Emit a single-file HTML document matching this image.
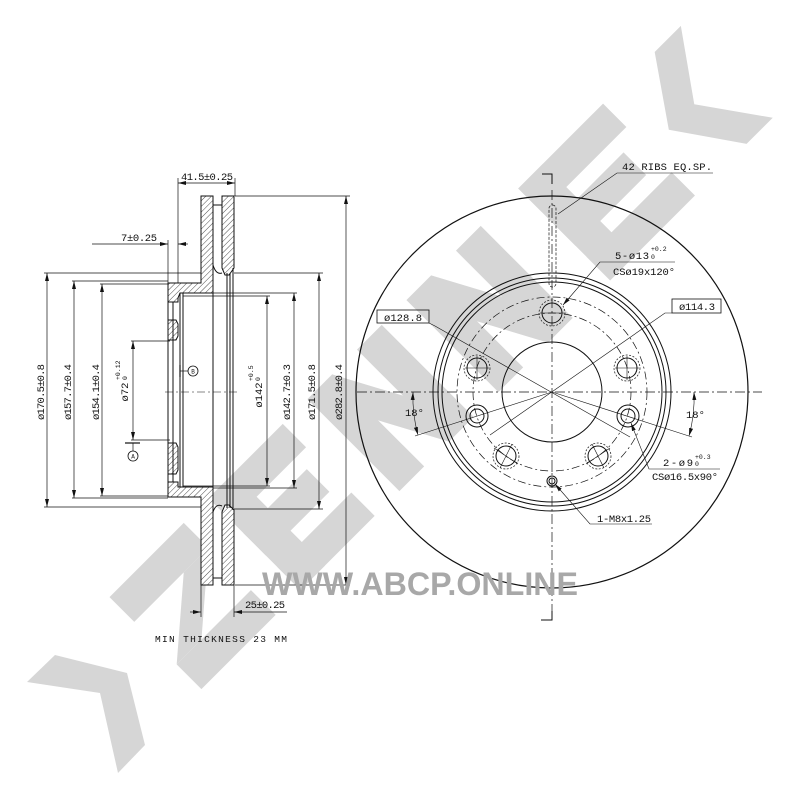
<!DOCTYPE html>
<html><head><meta charset="utf-8"><style>
html,body{margin:0;padding:0;background:#fff;}
svg{display:block;}
text{font-family:"Liberation Mono",monospace;fill:#111;}
</style></head><body>
<svg width="800" height="800" viewBox="0 0 800 800" xmlns="http://www.w3.org/2000/svg">
<defs>
<pattern id="h" patternUnits="userSpaceOnUse" width="4" height="4" patternTransform="rotate(45)">
<rect width="4" height="4" fill="#fff"/><line x1="0" y1="0" x2="0" y2="4" stroke="#222" stroke-width="0.8"/>
</pattern>
<marker id="a" markerWidth="8" markerHeight="6" refX="8" refY="3" orient="auto" markerUnits="userSpaceOnUse"><path d="M0,1 L8,3 L0,5z" fill="#111"/></marker>
<marker id="s" markerWidth="8" markerHeight="6" refX="0" refY="3" orient="auto" markerUnits="userSpaceOnUse"><path d="M8,1 L0,3 L8,5z" fill="#111"/></marker>
</defs>
<rect width="800" height="800" fill="#fff"/>

<!-- watermark -->
<g fill="#d6d6d6">
<polygon points="27,682 55,655 127,673 145,745 118,773 100,693"/>
<g transform="translate(60,740) rotate(-45)">
 <rect x="136" y="-66" width="105" height="35"/>
 <rect x="136" y="29" width="105" height="35"/>
 <polygon points="206,-31 241,-31 171,29 136,29"/>
 <rect x="276" y="-66" width="35" height="130"/>
 <rect x="276" y="-66" width="105" height="33"/>
 <rect x="276" y="-17" width="90" height="32"/>
 <rect x="276" y="31" width="105" height="33"/>
 <rect x="416" y="-66" width="35" height="130"/>
 <rect x="486" y="-66" width="35" height="130"/>
 <polygon points="416,-66 451,-66 521,64 486,64"/>
 <rect x="556" y="-66" width="35" height="130"/>
 <rect x="626" y="-66" width="35" height="130"/>
 <polygon points="556,-66 591,-66 661,64 626,64"/>
 <rect x="714" y="-66" width="35" height="130"/>
 <rect x="714" y="-66" width="120" height="33"/>
 <rect x="714" y="-17" width="100" height="32"/>
 <rect x="714" y="31" width="120" height="33"/>
 <polygon points="907,-66 944,-66 898,-1 944,64 907,64 862,-1"/>
</g>
</g>

<!-- ===== LEFT SECTION ===== -->
<g stroke="#111" stroke-width="1" fill="none">
<path fill="url(#h)" d="M201,196 H213 V293 H180 L178,298 V302 H168 V283 H201 Z"/>
<path fill="url(#h)" d="M168,320 H176 L178,324 V336 L176,340 H168 Z"/>
<path fill="url(#h)" d="M168,443 H176 L178,447 V470 L176,474 H168 Z"/>
<path fill="url(#h)" d="M168,482 H178 V487 H213 V585 H201 V497 H168 Z"/>
<path fill="url(#h)" d="M222,196 H234 V268 L229,275 H225 L222,268 Z"/>
<path fill="url(#h)" d="M222,512 L225,505 H229 L234,510 V585 H222 Z"/>
<line x1="213" y1="205" x2="222" y2="205"/>
<line x1="213" y1="578" x2="222" y2="578"/>
<path d="M213,265 Q216,275 222,273"/>
<path d="M213,512 Q216,503 222,506"/>
<line x1="168" y1="302" x2="168" y2="482"/>
<line x1="173" y1="302" x2="173" y2="482"/>
<line x1="180" y1="293" x2="180" y2="487"/>
<line x1="183" y1="293" x2="183" y2="487"/>
<line x1="213" y1="293" x2="213" y2="487"/>
<line x1="227" y1="273" x2="227" y2="508"/>
<line x1="230" y1="273" x2="230" y2="508"/>
<line x1="233" y1="268" x2="233" y2="510"/>
<line x1="183" y1="296" x2="270" y2="296" stroke-width="0.7"/>
<line x1="183" y1="486" x2="270" y2="486" stroke-width="0.7"/>
<line x1="165" y1="392" x2="238" y2="392" stroke-width="0.6" stroke-dasharray="8,3,2,3"/>

<g stroke-width="0.7">
<line x1="178" y1="178" x2="178" y2="283"/>
<line x1="235" y1="178" x2="235" y2="196"/>
<line x1="178" y1="183" x2="235" y2="183" marker-start="url(#s)" marker-end="url(#a)"/>
<line x1="168" y1="240" x2="168" y2="283"/>
<line x1="92" y1="244" x2="168" y2="244" marker-end="url(#a)"/>
<line x1="178" y1="244" x2="188" y2="244" marker-start="url(#s)"/>
<line x1="44" y1="273" x2="201" y2="273"/>
<line x1="44" y1="507" x2="201" y2="507"/>
<line x1="47" y1="273" x2="47" y2="507" marker-start="url(#s)" marker-end="url(#a)"/>
<line x1="72" y1="281" x2="168" y2="281"/>
<line x1="72" y1="498" x2="168" y2="498"/>
<line x1="74" y1="281" x2="74" y2="498" marker-start="url(#s)" marker-end="url(#a)"/>
<line x1="100" y1="284" x2="168" y2="284"/>
<line x1="100" y1="496" x2="168" y2="496"/>
<line x1="102" y1="284" x2="102" y2="496" marker-start="url(#s)" marker-end="url(#a)"/>
<line x1="131" y1="341" x2="170" y2="341"/>
<line x1="131" y1="440" x2="170" y2="440"/>
<line x1="133" y1="341" x2="133" y2="440" marker-start="url(#s)" marker-end="url(#a)"/>
<line x1="125" y1="443" x2="140" y2="443" stroke-width="1.2"/>
<line x1="133" y1="443" x2="133" y2="451"/>
<line x1="267" y1="296" x2="267" y2="486" marker-start="url(#s)" marker-end="url(#a)"/>
<line x1="213" y1="293" x2="297" y2="293"/>
<line x1="213" y1="488" x2="297" y2="488"/>
<line x1="294" y1="293" x2="294" y2="488" marker-start="url(#s)" marker-end="url(#a)"/>
<line x1="234" y1="273" x2="323" y2="273"/>
<line x1="234" y1="509" x2="323" y2="509"/>
<line x1="319" y1="273" x2="319" y2="509" marker-start="url(#s)" marker-end="url(#a)"/>
<line x1="235" y1="196" x2="350" y2="196"/>
<line x1="235" y1="585" x2="350" y2="585"/>
<line x1="346" y1="196" x2="346" y2="585" marker-start="url(#s)" marker-end="url(#a)"/>
<line x1="201" y1="585" x2="201" y2="617"/>
<line x1="234" y1="585" x2="234" y2="617"/>
<line x1="190" y1="612" x2="201" y2="612" marker-end="url(#a)"/>
<line x1="234" y1="612" x2="287" y2="612" marker-start="url(#s)"/>
<line x1="180" y1="365" x2="180" y2="377" stroke-width="1.2"/>
<line x1="180" y1="371" x2="188" y2="371"/>
</g>
<circle cx="193" cy="371" r="5" stroke-width="0.8"/>
<circle cx="133" cy="456" r="5" stroke-width="0.8"/>
</g>
<text x="193" y="373.5" font-size="6" text-anchor="middle">B</text>
<text x="133" y="458.5" font-size="6" text-anchor="middle">A</text>

<g font-size="10.5">
<text x="181" y="180" textLength="52">41.5±0.25</text>
<text x="121" y="241" textLength="36">7±0.25</text>
<text x="245" y="608" textLength="40">25±0.25</text>
<text x="155" y="642" font-size="9.5" textLength="132">MIN THICKNESS 23 MM</text>
<text transform="translate(44,392) rotate(-90)" text-anchor="middle" textLength="56">ø170.5±0.8</text>
<text transform="translate(71,392) rotate(-90)" text-anchor="middle" textLength="56">ø157.7±0.4</text>
<text transform="translate(99,392) rotate(-90)" text-anchor="middle" textLength="56">ø154.1±0.4</text>
<text transform="translate(128,392) rotate(-90)" text-anchor="middle">ø72</text>
<text transform="translate(120,380) rotate(-90)" font-size="6.5">+0.12</text>
<text transform="translate(127,380) rotate(-90)" font-size="6.5">0</text>
<text transform="translate(262,395) rotate(-90)" text-anchor="middle">ø142</text>
<text transform="translate(253,381) rotate(-90)" font-size="6.5">+0.5</text>
<text transform="translate(260,381) rotate(-90)" font-size="6.5">0</text>
<text transform="translate(290,392) rotate(-90)" text-anchor="middle" textLength="56">ø142.7±0.3</text>
<text transform="translate(315,392) rotate(-90)" text-anchor="middle" textLength="56">ø171.5±0.8</text>
<text transform="translate(342,392) rotate(-90)" text-anchor="middle" textLength="56">ø282.8±0.4</text>
</g>

<!-- ===== RIGHT VIEW ===== -->
<g stroke="#111" fill="none" stroke-width="1">
<circle cx="552" cy="392" r="196" stroke-width="1.2"/>
<circle cx="552" cy="392" r="119"/>
<circle cx="552" cy="392" r="114"/>
<circle cx="552" cy="392" r="110"/>
<circle cx="552" cy="392" r="50"/>
<circle cx="552" cy="392" r="95" stroke-width="0.7" stroke-dasharray="8,3,2,3"/>
<circle cx="552" cy="392" r="79" stroke-width="0.7" stroke-dasharray="8,3,2,3"/>
<line x1="357" y1="392" x2="762" y2="392" stroke-width="0.7" stroke-dasharray="10,3,2,3"/>
<line x1="552" y1="190" x2="552" y2="612" stroke-width="0.7" stroke-dasharray="10,3,2,3"/>
<polyline points="542,174 552,174 552,184"/>
<polyline points="552,611 552,620 541,620"/>
<rect x="549" y="205" width="7" height="82" rx="3.5" stroke-width="0.7" stroke-dasharray="3,1.5"/>

<g stroke-width="1">
<circle cx="552" cy="313" r="10"/><circle cx="552" cy="313" r="13" stroke-dasharray="2,1.5" stroke-width="0.7"/>
<circle cx="477" cy="368" r="10"/><circle cx="477" cy="368" r="13" stroke-dasharray="2,1.5" stroke-width="0.7"/>
<circle cx="627" cy="368" r="10"/><circle cx="627" cy="368" r="13" stroke-dasharray="2,1.5" stroke-width="0.7"/>
<circle cx="506" cy="456" r="10"/><circle cx="506" cy="456" r="13" stroke-dasharray="2,1.5" stroke-width="0.7"/>
<circle cx="598" cy="456" r="10"/><circle cx="598" cy="456" r="13" stroke-dasharray="2,1.5" stroke-width="0.7"/>
<circle cx="477" cy="416" r="7"/><circle cx="477" cy="416" r="11"/>
<circle cx="628" cy="416" r="7"/><circle cx="628" cy="416" r="11"/>
<circle cx="552" cy="481" r="5"/><circle cx="552" cy="481" r="3"/>
</g>
<g stroke-width="0.6">
<line x1="540" y1="313" x2="564" y2="313"/>
<line x1="465" y1="368" x2="489" y2="368"/><line x1="477" y1="356" x2="477" y2="380"/>
<line x1="615" y1="368" x2="639" y2="368"/><line x1="627" y1="356" x2="627" y2="380"/>
<line x1="494" y1="448" x2="518" y2="464"/><line x1="512" y1="444" x2="500" y2="468"/>
<line x1="586" y1="464" x2="610" y2="448"/><line x1="592" y1="444" x2="604" y2="468"/>
<polyline points="429,323 435,326 630,437"/>
<polyline points="672,313 665,313 490,435"/>
<line x1="552" y1="392" x2="415" y2="436"/>
<line x1="552" y1="392" x2="692" y2="437"/>
<path d="M413,392 A140,140 0 0 0 418,435" marker-start="url(#s)" marker-end="url(#a)"/>
<path d="M694,392 A142,142 0 0 1 689,436" marker-start="url(#s)" marker-end="url(#a)"/>
<polyline points="713,173 617,173 558,214"/>
<polyline points="675,262 600,262 563,305" marker-end="url(#a)"/>
<polyline points="720,469 649,469 631,423" marker-end="url(#a)"/>
<polyline points="652,524 590,524 555,484" marker-end="url(#a)"/>
</g>
<rect x="377" y="310" width="52" height="13" stroke-width="0.8"/>
<rect x="672" y="299" width="49" height="14" stroke-width="0.8"/>
</g>

<g font-size="10.5">
<text x="622" y="170" textLength="90">42 RIBS EQ.SP.</text>
<text x="615" y="259" textLength="34">5-ø13</text>
<text x="651" y="251" font-size="6.5">+0.2</text>
<text x="651" y="259" font-size="6.5">0</text>
<text x="613" y="275" textLength="62">CSø19x120°</text>
<text x="679" y="310" textLength="36">ø114.3</text>
<text x="384" y="321" textLength="38">ø128.8</text>
<text x="663" y="466" textLength="30">2-ø9</text>
<text x="695" y="459" font-size="6.5">+0.3</text>
<text x="695" y="466" font-size="6.5">0</text>
<text x="652" y="480" textLength="66">CSø16.5x90°</text>
<text x="597" y="522" textLength="54">1-M8x1.25</text>
<text x="405" y="416">18°</text>
<text x="686" y="418">18°</text>
</g>

<text x="262" y="595" font-size="32" textLength="316" lengthAdjust="spacingAndGlyphs" style="font-family:'Liberation Sans',sans-serif;font-weight:bold;fill:#a8a8a8">WWW.ABCP.ONLINE</text>
</svg>
</body></html>
